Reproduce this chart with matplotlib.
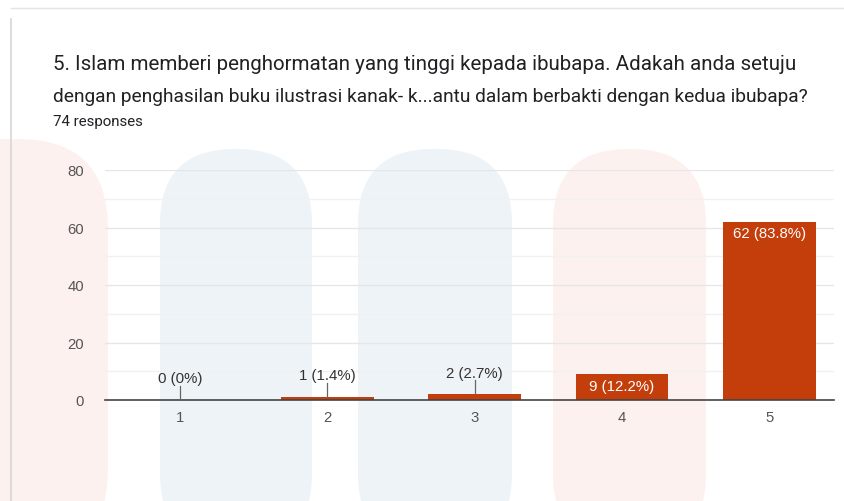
import matplotlib
matplotlib.use("Agg")
import matplotlib.pyplot as plt
from matplotlib.patches import FancyBboxPatch

plt.rcParams['font.family'] = ['Roboto', 'DejaVu Sans']

categories = ["1", "2", "3", "4", "5"]
counts = [0, 1, 2, 9, 62]
labels = ["0 (0%)", "1 (1.4%)", "2 (2.7%)", "9 (12.2%)", "62 (83.8%)"]
yticks = [0, 20, 40, 60, 80]

title_line1 = "5. Islam memberi penghormatan yang tinggi kepada ibubapa. Adakah anda setuju"
title_line2 = "dengan penghasilan buku ilustrasi kanak- k...antu dalam berbakti dengan kedua ibubapa?"
subtitle = "74 responses"

bar_color = "#c43e0c"
chart_font = ["Liberation Sans", "DejaVu Sans"]

fig = plt.figure(figsize=(8.44, 5.02), dpi=100)
fig.patch.set_facecolor("white")

W, H = 844, 502
def fx(px): return px / W
def fy(py): return 1 - py / H

# faint watermark shapes (background)
bg = fig.add_axes([0, 0, 1, 1], zorder=-10)
bg.set_xlim(0, W); bg.set_ylim(H, 0); bg.axis("off")
for (x0, x1, col) in [(160, 312, "#eaf0f6"), (358, 512, "#eaf0f6"), (553, 706, "#fdeeec")]:
    bg.add_patch(FancyBboxPatch((x0, 150), x1 - x0, 400, boxstyle="round,pad=0,rounding_size=75",
                                facecolor=col, edgecolor="none", alpha=0.8))
bg.add_patch(FancyBboxPatch((-120, 140), 228, 420, boxstyle="round,pad=0,rounding_size=90",
                            facecolor="#fdeeec", edgecolor="none", alpha=0.8))
# card border
bg.plot([11, 11], [20, H], color="#d6d6d6", lw=1.2)
bg.plot([11, W], [9, 9], color="#e4e4e4", lw=1.0)

ax = fig.add_axes([fx(105), fy(401), fx(834) - fx(105), fy(171) - fy(401)])
ax.patch.set_alpha(0)
x = list(range(1, len(categories) + 1))
ax.bar(x, counts, width=0.63, color=bar_color, zorder=3)
ax.set_xlim(0.49, 5.44)
ax.set_ylim(0, 80)
ax.set_yticks(yticks)
ax.set_yticks([10, 30, 50, 70], minor=True)
ax.set_xticks(x)
ax.set_xticklabels(categories)
ax.grid(axis="y", which="major", color="#e6e6e6", lw=1, zorder=0)
ax.grid(axis="y", which="minor", color="#f1f1f1", lw=1, zorder=0)
ax.tick_params(axis="both", which="both", length=0, labelsize=10.7, colors="#555555")
ax.tick_params(axis="x", pad=7)
ax.tick_params(axis="y", pad=15)
for lab in ax.get_xticklabels() + ax.get_yticklabels():
    lab.set_family(chart_font)
for s in ["top", "right", "left"]:
    ax.spines[s].set_visible(False)
ax.spines["bottom"].set_color("#444444")
ax.spines["bottom"].set_linewidth(1.2)
ax.spines["bottom"].set_zorder(4)

for xi, c, lab in zip(x, counts, labels):
    if c >= 5:
        ax.text(xi, c - 1.6, lab, ha="center", va="top", color="white", fontsize=10.8,
                family=chart_font, zorder=5)
    else:
        lab_y = 5.2 + c * 0.9
        ax.plot([xi, xi], [c, lab_y - 0.2], color="#666666", lw=0.9, zorder=5)
        ax.text(xi, lab_y, lab, ha="center", va="bottom", color="#333333", fontsize=10.8,
                family=chart_font, zorder=5)

fig.text(fx(53), fy(64), title_line1, fontsize=14.8, color="#202124", va="center", ha="left")
fig.text(fx(53), fy(97), title_line2, fontsize=13.8, color="#202124", va="center", ha="left")
fig.text(fx(53), fy(122), subtitle, fontsize=10.8, color="#202124", va="center", ha="left")

fig.savefig("out.png", dpi=100, facecolor="white")
